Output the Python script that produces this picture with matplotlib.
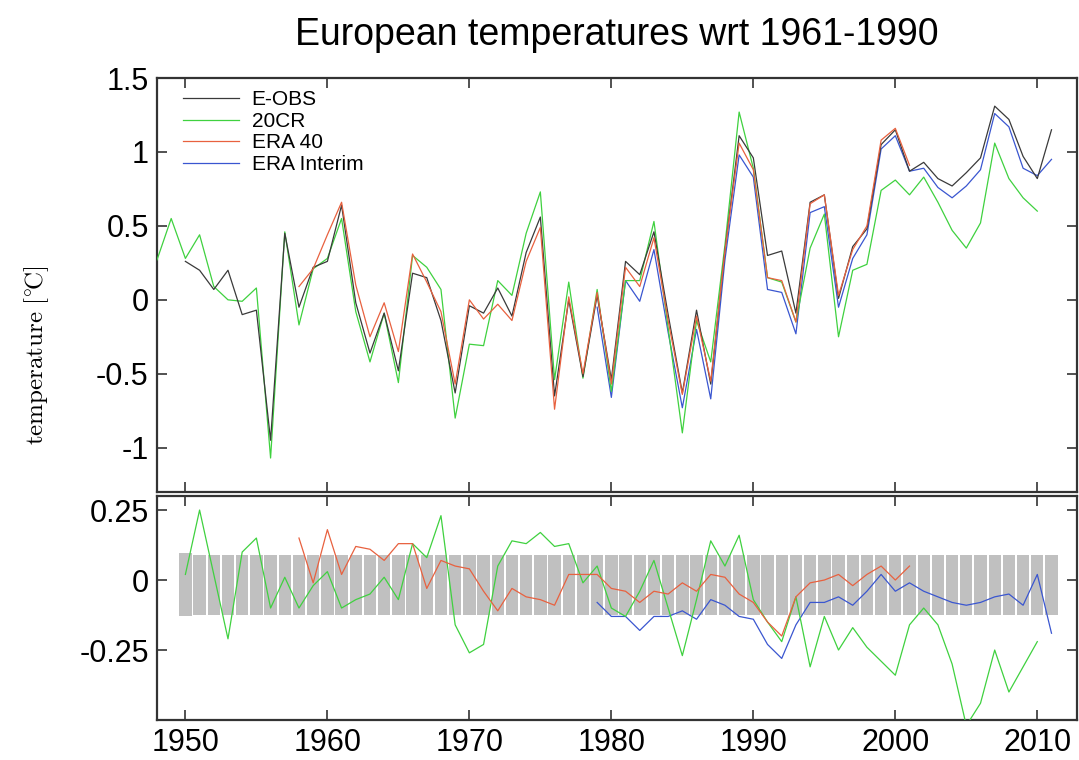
import matplotlib
matplotlib.use("Agg")
import matplotlib.pyplot as plt
import numpy as np
from matplotlib.ticker import FixedLocator, FormatStrFormatter

plt.rcParams['font.family'] = ['Liberation Sans', 'DejaVu Sans']
plt.rcParams['axes.unicode_minus'] = False
plt.rcParams['mathtext.fontset'] = 'cm'

# annual mean anomalies (deg C) relative to 1961-1990
years_eobs = np.arange(1950, 2012)
eobs = [0.26, 0.20, 0.07, 0.20, -0.10, -0.07, -0.95, 0.45, -0.05, 0.22,
        0.26, 0.64, -0.02, -0.36, -0.09, -0.48, 0.18, 0.15, -0.14, -0.63,
        -0.04, -0.09, 0.08, -0.11, 0.32, 0.56, -0.65, 0.00, -0.52, 0.03,
        -0.54, 0.26, 0.17, 0.46, -0.10, -0.63, -0.07, -0.57, 0.33, 1.11,
        0.96, 0.30, 0.33, -0.09, 0.66, 0.71, 0.01, 0.36, 0.48, 1.05,
        1.15, 0.87, 0.93, 0.82, 0.77, 0.86, 0.96, 1.31, 1.22, 0.97,
        0.82, 1.15]

years_20cr = np.arange(1948, 2011)
twenty_cr = [0.27, 0.55,
             0.28, 0.44, 0.09, 0.00, -0.01, 0.08, -1.07, 0.46, -0.17, 0.21,
             0.28, 0.55, -0.08, -0.42, -0.09, -0.56, 0.30, 0.22, 0.07, -0.80,
             -0.30, -0.31, 0.13, 0.03, 0.45, 0.73, -0.54, 0.12, -0.53, 0.07,
             -0.62, 0.13, 0.13, 0.53, -0.19, -0.90, -0.14, -0.42, 0.37, 1.27,
             0.89, 0.15, 0.12, -0.15, 0.35, 0.58, -0.25, 0.20, 0.24, 0.74,
             0.81, 0.71, 0.83, 0.66, 0.47, 0.35, 0.52, 1.06, 0.82, 0.69,
             0.60]

years_era40 = np.arange(1958, 2002)
era40 = [0.09, 0.21,
         0.44, 0.66, 0.10, -0.25, -0.02, -0.35, 0.31, 0.12, -0.08, -0.57,
         0.00, -0.13, -0.03, -0.14, 0.26, 0.49, -0.74, 0.02, -0.50, 0.05,
         -0.57, 0.22, 0.09, 0.42, -0.14, -0.64, -0.11, -0.55, 0.33, 1.06,
         0.88, 0.15, 0.13, -0.15, 0.65, 0.71, 0.03, 0.34, 0.50, 1.08,
         1.16, 0.91]

years_erai = np.arange(1979, 2012)
era_interim = [-0.05,
               -0.66, 0.13, -0.01, 0.34, -0.22, -0.73, -0.20, -0.67, 0.27, 0.98,
               0.83, 0.07, 0.05, -0.23, 0.59, 0.63, -0.05, 0.28, 0.44, 1.02,
               1.11, 0.87, 0.89, 0.76, 0.69, 0.77, 0.88, 1.26, 1.17, 0.89,
               0.84, 0.95]

# differences with respect to E-OBS
years_d20cr = np.arange(1950, 2011)
diff_20cr = [0.02, 0.25, 0.02, -0.21, 0.10, 0.15, -0.10, 0.01, -0.10, -0.02,
             0.03, -0.10, -0.07, -0.05, 0.01, -0.07, 0.13, 0.08, 0.23, -0.16,
             -0.26, -0.23, 0.05, 0.14, 0.13, 0.17, 0.12, 0.13, -0.01, 0.05,
             -0.10, -0.13, -0.04, 0.07, -0.10, -0.27, -0.07, 0.14, 0.05, 0.16,
             -0.07, -0.15, -0.22, -0.06, -0.31, -0.13, -0.25, -0.17, -0.24, -0.29,
             -0.34, -0.16, -0.10, -0.16, -0.30, -0.52, -0.44, -0.25, -0.40, -0.31,
             -0.22]

diff_era40 = [0.15, -0.01,
              0.18, 0.02, 0.12, 0.11, 0.07, 0.13, 0.13, -0.03, 0.07, 0.05,
              0.04, -0.04, -0.11, -0.03, -0.06, -0.07, -0.09, 0.02, 0.02, 0.02,
              -0.03, -0.04, -0.08, -0.04, -0.05, -0.01, -0.04, 0.02, 0.01, -0.05,
              -0.08, -0.15, -0.20, -0.06, -0.01, 0.00, 0.02, -0.02, 0.02, 0.05,
              0.00, 0.05]

diff_erai = [-0.08,
             -0.13, -0.13, -0.18, -0.13, -0.13, -0.11, -0.14, -0.07, -0.09, -0.13,
             -0.14, -0.23, -0.28, -0.16, -0.08, -0.08, -0.06, -0.09, -0.04, 0.02,
             -0.04, -0.01, -0.04, -0.06, -0.08, -0.09, -0.08, -0.06, -0.05, -0.09,
             0.02, -0.19]

# E-OBS uncertainty band
band_hi = [0.096] + [0.090] * 18 + [0.088] * 43
band_lo = [-0.129] + [-0.126] * 61

c_eobs = '#3a3a3a'
c_20cr = '#3fd13f'
c_era40 = '#e8613f'
c_erai = '#3a56d0'
lw = 0.9

fig = plt.figure(figsize=(10.79, 7.6), dpi=100)
ax1 = fig.add_axes([0.1455, 0.3526, 0.8527, 0.5447])
ax2 = fig.add_axes([0.1455, 0.0526, 0.8527, 0.2947])

ax1.plot(years_eobs, eobs, color=c_eobs, lw=lw, label='E-OBS', zorder=4)
ax1.plot(years_20cr, twenty_cr, color=c_20cr, lw=lw, label='20CR', zorder=3)
ax1.plot(years_era40, era40, color=c_era40, lw=lw, label='ERA 40', zorder=5)
ax1.plot(years_erai, era_interim, color=c_erai, lw=lw, label='ERA Interim', zorder=2)

lo = np.array(band_lo)
hi = np.array(band_hi)
ax2.bar(years_eobs, hi - lo, bottom=lo, width=0.87, color='#c0c0c0',
        linewidth=0, zorder=1)
ax2.plot(years_d20cr, diff_20cr, color=c_20cr, lw=lw, zorder=3)
ax2.plot(years_era40, diff_era40, color=c_era40, lw=lw, zorder=4)
ax2.plot(years_erai, diff_erai, color=c_erai, lw=lw, zorder=2)

for ax in (ax1, ax2):
    ax.set_xlim(1948, 2012.8)
    ax.xaxis.set_major_locator(FixedLocator([1950, 1960, 1970, 1980, 1990, 2000, 2010]))
    ax.tick_params(direction='in', top=True, right=True, length=7, width=1.2,
                   labelsize=22, color='#333333', pad=6)
    ax.yaxis.set_major_formatter(FormatStrFormatter('%g'))
    for sp in ax.spines.values():
        sp.set_linewidth(1.6)
        sp.set_color('#333333')

ax1.set_ylim(-1.3, 1.5)
ax1.yaxis.set_major_locator(FixedLocator([-1, -0.5, 0, 0.5, 1, 1.5]))
ax1.tick_params(labelbottom=False)

ax2.set_ylim(-0.5, 0.3)
ax2.yaxis.set_major_locator(FixedLocator([-0.25, 0, 0.25]))

ax1.set_title('European temperatures wrt 1961-1990', fontsize=27, pad=24)

fig.text(0.034, 0.532, r'$\mathrm{temperature\ [}^{\circ}\!\mathrm{C]}$', rotation=90,
         fontsize=18, ha='center', va='center')

ax1.legend(loc='upper left', bbox_to_anchor=(0.028, 0.97), frameon=False,
           fontsize=15, handlelength=2.7, handletextpad=0.6, labelspacing=0.12,
           borderaxespad=0, borderpad=0)

fig.savefig('out.png', dpi=100)
